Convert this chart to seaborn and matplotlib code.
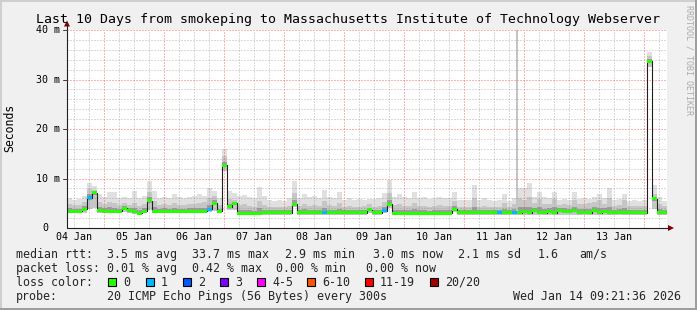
import numpy as np
import pandas as pd
import matplotlib
matplotlib.use("Agg")
import matplotlib.pyplot as plt
import matplotlib.dates as mdates
import matplotlib.transforms as mtrans
from matplotlib.patches import Rectangle, Polygon
from matplotlib.lines import Line2D
import seaborn as sns

# ---------------- data (2-hour buckets, 120 buckets over 10 days) ----------------
start_time = "2026-01-04 09:21:36"
bucket_hours = 2

median_ms = [
    3.4, 3.4, 3.4, 3.8, 6.1, 7.1, 3.5, 3.4, 3.4, 3.4,
    3.4, 4.0, 3.5, 3.3, 3.0, 3.4, 5.5, 3.4, 3.4, 3.4,
    3.4, 3.4, 3.4, 3.4, 3.4, 3.4, 3.4, 3.4, 3.8, 5.0,
    3.4, 12.7, 4.3, 5.0, 3.0, 3.0, 3.0, 3.0, 3.0, 3.1,
    3.1, 3.1, 3.1, 3.1, 3.1, 4.8, 3.1, 3.1, 3.1, 3.1,
    3.1, 3.1, 3.1, 3.1, 3.1, 3.1, 3.1, 3.1, 3.1, 3.1,
    3.7, 3.1, 3.1, 3.5, 4.8, 3.0, 3.0, 3.0, 3.0, 3.0,
    3.0, 3.0, 3.0, 3.0, 3.0, 3.0, 3.0, 3.8, 3.1, 3.1,
    3.1, 3.1, 3.1, 3.1, 3.1, 3.1, 3.1, 3.1, 3.1, 3.1,
    3.1, 3.3, 3.1, 3.5, 3.2, 3.1, 3.3, 3.1, 3.5, 3.4,
    3.4, 3.5, 3.1, 3.2, 3.1, 3.5, 3.1, 3.4, 3.1, 3.1,
    3.2, 3.1, 3.1, 3.1, 3.1, 3.1, 33.7, 5.9, 3.1, 3.1,
]
smoke_max = [
    6.0, 5.6, 5.8, 6.5, 9.0, 8.5, 6.8, 6.2, 7.3, 7.3,
    6.0, 6.3, 6.0, 7.5, 6.0, 6.5, 9.4, 7.5, 6.0, 6.2,
    6.0, 6.8, 6.3, 6.0, 6.2, 6.4, 6.8, 6.5, 8.0, 7.5,
    6.0, 16.0, 7.5, 7.0, 6.5, 6.7, 6.2, 6.0, 8.2, 6.5,
    5.6, 5.5, 5.6, 5.5, 6.0, 9.4, 6.0, 6.8, 6.2, 6.5,
    6.0, 7.7, 6.2, 6.0, 7.3, 5.6, 6.0, 5.6, 5.8, 5.6,
    5.8, 5.8, 6.0, 7.0, 9.6, 6.2, 6.8, 6.2, 6.0, 7.3,
    6.0, 6.2, 5.8, 6.0, 6.3, 6.0, 6.0, 7.3, 5.6, 5.6,
    5.6, 8.7, 5.6, 6.0, 5.6, 5.5, 5.6, 6.9, 5.5, 6.0,
    8.0, 8.0, 9.0, 6.2, 7.2, 6.2, 6.0, 7.2, 5.6, 5.8,
    5.6, 7.2, 5.8, 6.0, 5.8, 6.2, 6.8, 6.0, 8.0, 5.6,
    5.8, 6.8, 5.5, 5.6, 5.5, 5.6, 35.6, 8.7, 6.2, 5.5,
]
smoke_mid = [
    4.8, 4.6, 4.7, 5.2, 7.8, 7.6, 5.2, 4.8, 5.3, 5.0,
    4.6, 5.0, 4.7, 5.0, 4.4, 4.8, 7.3, 5.4, 4.7, 4.8,
    4.6, 5.0, 4.7, 4.6, 4.8, 4.9, 5.0, 5.2, 6.0, 6.5,
    4.6, 14.5, 5.8, 5.6, 4.6, 4.8, 4.4, 4.3, 5.5, 4.6,
    4.2, 4.2, 4.3, 4.2, 4.5, 7.0, 4.5, 4.8, 4.5, 4.6,
    4.4, 5.5, 4.6, 4.5, 5.0, 4.2, 4.4, 4.2, 4.3, 4.4,
    4.8, 4.3, 4.5, 5.2, 7.0, 4.6, 4.8, 4.5, 4.4, 5.0,
    4.4, 4.5, 4.3, 4.4, 4.6, 4.5, 4.5, 5.5, 4.2, 4.3,
    4.2, 6.0, 4.3, 4.4, 4.2, 4.2, 4.3, 5.0, 4.3, 4.8,
    6.0, 5.6, 6.2, 5.0, 5.8, 4.8, 4.9, 5.8, 4.6, 4.8,
    4.7, 5.6, 4.8, 4.8, 5.0, 5.2, 5.6, 4.8, 6.0, 4.5,
    4.6, 5.6, 4.4, 4.5, 4.4, 4.5, 34.8, 6.8, 4.8, 4.4,
]
smoke_min = [
    3.0, 3.0, 3.0, 3.1, 3.8, 4.0, 3.1, 3.0, 3.0, 3.0,
    3.0, 3.3, 3.0, 2.9, 2.7, 3.0, 3.6, 3.0, 3.0, 3.0,
    3.0, 3.0, 3.0, 3.0, 3.0, 3.0, 3.0, 3.0, 3.2, 3.5,
    3.0, 11.5, 3.6, 3.6, 2.6, 2.6, 2.6, 2.6, 2.6, 2.7,
    2.7, 2.7, 2.7, 2.7, 2.7, 4.2, 2.7, 2.7, 2.7, 2.7,
    2.7, 2.7, 2.7, 2.7, 2.7, 2.7, 2.7, 2.7, 2.7, 2.7,
    3.0, 2.7, 2.7, 3.0, 4.0, 2.6, 2.6, 2.6, 2.6, 2.6,
    2.6, 2.6, 2.6, 2.6, 2.6, 2.6, 2.6, 3.3, 2.7, 2.7,
    2.7, 2.7, 2.7, 2.7, 2.7, 2.7, 2.7, 2.7, 2.7, 2.7,
    2.6, 2.7, 2.6, 2.7, 2.6, 2.6, 2.7, 2.6, 2.7, 2.7,
    2.7, 2.7, 2.6, 2.7, 2.6, 2.7, 2.6, 2.7, 2.6, 2.6,
    2.7, 2.6, 2.7, 2.7, 2.7, 2.7, 32.5, 3.8, 2.7, 2.7,
]
# buckets where pings were lost (count of lost pings out of 20)
loss_buckets = [4, 28, 51, 63, 86, 89]
loss_counts = [1, 1, 1, 1, 1, 1]

# single outlier ping column
outlier_time = ["2026-01-11 20:56"]
outlier_low = [3.0]
outlier_high = [41.0]

loss_labels = ["0", "1", "2", "3", "4-5", "6-10", "11-19", "20/20"]
loss_colors = ["#26ff00", "#00b8ff", "#0059ff", "#7e00ff", "#ff00ff", "#ff5500", "#ff0000", "#a00000"]
loss_upper = [0, 1, 2, 3, 5, 10, 19, 20]

day_labels = ["04 Jan", "05 Jan", "06 Jan", "07 Jan", "08 Jan", "09 Jan", "10 Jan", "11 Jan", "12 Jan", "13 Jan"]
y_ticks = [0, 10, 20, 30, 40]
y_tick_labels = ["0", "10 m", "20 m", "30 m", "40 m"]

title = "Last 10 Days from smokeping to Massachusetts Institute of Technology Webserver"
rtt_label = "median rtt:"
rtt_stats = ["3.5 ms avg", "33.7 ms max", "2.9 ms min", "3.0 ms now", "2.1 ms sd", "1.6", "am/s"]
loss_label = "packet loss:"
loss_stats = ["0.01 % avg", "0.42 % max", "0.00 % min", "0.00 % now"]
color_label = "loss color:"
probe_label = "probe:"
probe_text = "20 ICMP Echo Pings (56 Bytes) every 300s"
stamp_text = "Wed Jan 14 09:21:36 2026"
side_text = "RRDTOOL / TOBI OETIKER"

# ---------------- figure ----------------
sns.set_style("white")
plt.rcParams['font.family'] = ['DejaVu Sans Mono', 'DejaVu Sans']

W, H = 697, 310
fig = plt.figure(figsize=(W / 100, H / 100), dpi=100, facecolor="#F0F0F0")

def fx(x):
    return x / W

def fy(y):
    return 1 - y / H

# border shading
fig.add_artist(Rectangle((0, fy(2)), 1, 2 / H, transform=fig.transFigure, color="#CFCFCF", lw=0))
fig.add_artist(Rectangle((0, 0), 2 / W, 1, transform=fig.transFigure, color="#CFCFCF", lw=0))
fig.add_artist(Rectangle((0, 0), 1, 2 / H, transform=fig.transFigure, color="#9E9E9E", lw=0))
fig.add_artist(Rectangle((fx(W - 2), 0), 2 / W, 1, transform=fig.transFigure, color="#9E9E9E", lw=0))

ax = fig.add_axes([fx(67), fy(228), 600 / W, 198 / H])
ax.set_facecolor("white")
for s in ax.spines.values():
    s.set_visible(False)

t0 = pd.Timestamp(start_time)
n = len(median_ms)
starts = pd.date_range(t0, periods=n, freq=f"{bucket_hours}h")
t_end = t0 + pd.Timedelta(hours=bucket_hours * n)
xs = mdates.date2num(starts.to_pydatetime())
x_end = mdates.date2num(t_end.to_pydatetime())
xe = np.append(xs, x_end)
bw = bucket_hours / 24.0

med = np.array(median_ms)
smax = np.array(smoke_max)
smid = np.array(smoke_mid)
smin = np.array(smoke_min)
dark_lo = np.maximum(smin, med - 0.35)
dark_top = med + 0.4 * (smid - med)

def ext(a):
    return np.append(a, a[-1])

ax.fill_between(xe, ext(smin), ext(smax), step="post", color="#E0E0E0", lw=0, zorder=1)
ax.fill_between(xe, ext(smin), ext(smid), step="post", color="#C6C6C6", lw=0, zorder=1.1)
ax.fill_between(xe, ext(dark_lo), ext(dark_top), step="post", color="#9C9C9C", lw=0, zorder=1.2)

# outlier ping column
ox = mdates.date2num(pd.to_datetime(outlier_time).to_pydatetime())
ax.bar(ox, np.array(outlier_high) - np.array(outlier_low), bottom=outlier_low, width=55 / 1440,
       align="edge", color="#C4C4C4", lw=0, zorder=1.3)

# grid
MAJ = (1, 0.3, 0.3, 0.42)
MIN = (0.55, 0.55, 0.55, 0.32)
for yv in range(2, 41, 2):
    major = (yv % 10 == 0)
    ax.axhline(yv, color=MAJ if major else MIN,
               lw=0.72, ls=(0, (1.4, 1.4)), zorder=2, clip_on=False, antialiased=False)
grid_times = pd.date_range("2026-01-04 12:00", t_end, freq="6h")
for gt in grid_times:
    major = gt.hour == 0
    ax.axvline(mdates.date2num(gt.to_pydatetime()), color=MAJ if major else MIN,
               lw=0.72, ls=(0, (1.4, 1.4)), zorder=2, antialiased=False)

# median line
sns.lineplot(x=xe, y=ext(med), drawstyle="steps-post", color="#202020", lw=0.8,
             ax=ax, estimator=None, sort=False, zorder=3)

# loss coloured band
loss = np.zeros(n, dtype=int)
for b, c in zip(loss_buckets, loss_counts):
    loss[b] = c
band_colors = []
for lv in loss:
    for up, col in zip(loss_upper, loss_colors):
        if lv <= up:
            band_colors.append(col)
            break
ax.bar(xs, 0.6, bottom=med - 0.3, width=bw, align="edge", color=band_colors,
       lw=0, zorder=4, antialiased=False)

ax.set_xlim(xs[0], x_end)
ax.set_ylim(0, 40)
ax.set_xticks([])
ax.set_yticks([])
ax.set_xlabel("")
ax.set_ylabel("")

# axis lines & arrows
fig.add_artist(Line2D([fx(67), fx(668)], [fy(228), fy(228)], transform=fig.transFigure, color="#202020", lw=0.8))
fig.add_artist(Line2D([fx(67), fx(67)], [fy(228), fy(25)], transform=fig.transFigure, color="#202020", lw=0.8))
fig.add_artist(Polygon([[fx(674), fy(228)], [fx(668), fy(225)], [fx(668), fy(231)]], closed=True,
                       transform=fig.transFigure, color="#800000", lw=0))
fig.add_artist(Polygon([[fx(67), fy(20.5)], [fx(64), fy(26.5)], [fx(70), fy(26.5)]], closed=True,
                       transform=fig.transFigure, color="#800000", lw=0))

# y tick labels and tick marks
for yv, lab in zip(y_ticks, y_tick_labels):
    ypx = 228 - yv * 4.95
    xr = 60 if lab != "0" else 48
    fig.text(fx(xr), fy(ypx + 3.4), lab, ha="right", va="baseline", fontsize=7.2, color="black")
    if yv > 0:
        fig.add_artist(Line2D([fx(63), fx(67)], [fy(ypx), fy(ypx)], transform=fig.transFigure,
                              color="#404040", lw=0.72))

# x tick labels at noon
noon = pd.date_range("2026-01-04 12:00", periods=len(day_labels), freq="D")
xtrans = mtrans.blended_transform_factory(ax.transData, fig.transFigure)
for d, lab in zip(noon, day_labels):
    fig.text(mdates.date2num(d.to_pydatetime()), fy(240.5), lab, transform=xtrans,
             ha="center", va="baseline", fontsize=7.2, color="black")

# titles and side text
fig.text(fx(36), fy(23), title, ha="left", va="baseline", fontsize=9.55, color="black")
fig.text(fx(10), fy(128), "Seconds", rotation=90, ha="center", va="center", fontsize=8.3, color="black")
fig.text(fx(688.5), fy(60), side_text, rotation=270, ha="center", va="center", fontsize=6.0, color="#ABABAB")

# legend
LF = 8.37
row1, row2, row3, row4 = 257.7, 271.8, 285.9, 300.0
fig.text(fx(16), fy(row1), rtt_label, fontsize=LF, va="baseline")
for xp, s in zip([107.3, 192, 285, 373, 458.3, 537.3, 579.3], rtt_stats):
    fig.text(fx(xp), fy(row1), s, fontsize=LF, va="baseline")
fig.text(fx(16), fy(row2), loss_label, fontsize=LF, va="baseline")
for xp, s in zip([107.3, 192, 276, 366], loss_stats):
    fig.text(fx(xp), fy(row2), s, fontsize=LF, va="baseline")
fig.text(fx(16), fy(row3), color_label, fontsize=LF, va="baseline")
box_x = [108.3, 145.7, 183.3, 220, 257.3, 307.3, 365, 430]
for bx, lab, col in zip(box_x, loss_labels, loss_colors):
    fig.add_artist(Rectangle((fx(bx), fy(row3)), 8 / W, 8 / H, transform=fig.transFigure,
                             facecolor=col, edgecolor="black", lw=0.8))
    fig.text(fx(bx + 15), fy(row3), lab, fontsize=LF, va="baseline")
fig.text(fx(16), fy(row4), probe_label, fontsize=LF, va="baseline")
fig.text(fx(107.3), fy(row4), probe_text, fontsize=LF, va="baseline")
fig.text(fx(681), fy(row4), stamp_text, fontsize=LF, va="baseline", ha="right")

fig.savefig("out.png", dpi=100, facecolor=fig.get_facecolor())
